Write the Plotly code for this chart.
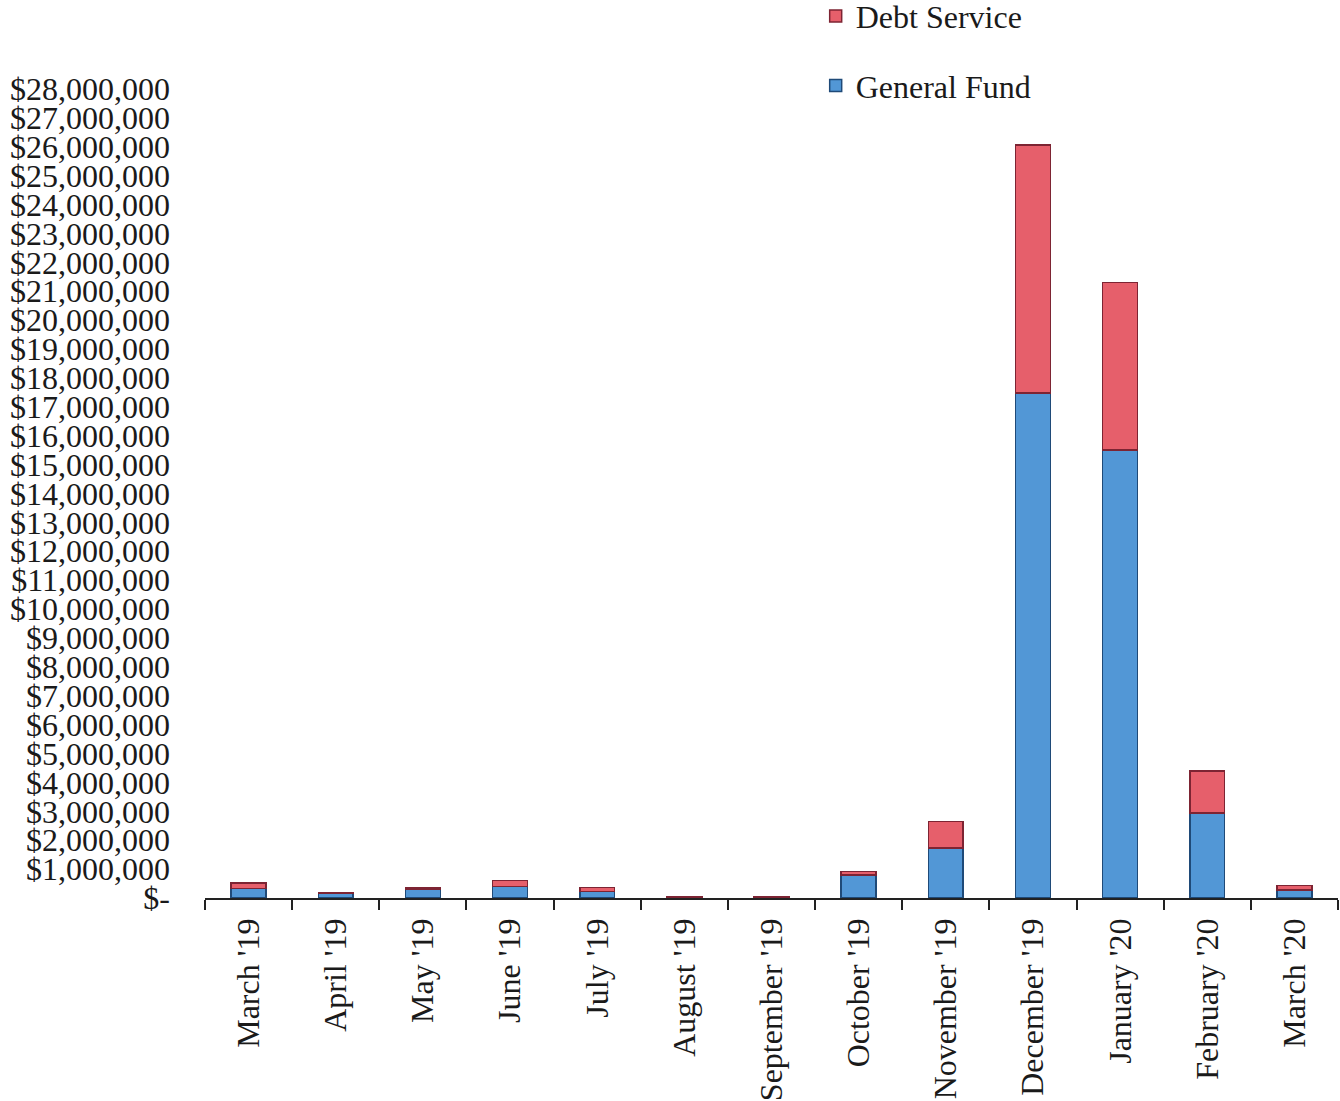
import plotly.graph_objects as go

months = ["March '19", "April '19", "May '19", "June '19", "July '19", "August '19",
          "September '19", "October '19", "November '19", "December '19",
          "January '20", "February '20", "March '20"]
general_fund = [330000, 150000, 290000, 400000, 230000, 20000, 20000,
                790000, 1730000, 17470000, 15500000, 2940000, 270000]
debt_service = [190000, 30000, 50000, 200000, 130000, 10000, 10000,
                130000, 910000, 8590000, 5800000, 1450000, 160000]
tick_values = list(range(0, 28000001, 1000000))


def fmt(v):
    return "$-" if v == 0 else "${:,}".format(v)


tick_text = [fmt(v) for v in tick_values]

font_family = "Liberation Serif, Times New Roman, serif"

fig = go.Figure()
fig.add_trace(go.Bar(
    x=months, y=general_fund, name="General Fund", legendgroup="gf", legendrank=2,
    marker=dict(color="#5297d6", line=dict(color="#1f4a78", width=1.5)),
))
fig.add_trace(go.Bar(
    x=months, y=debt_service, name="Debt Service", legendgroup="ds", legendrank=1,
    marker=dict(color="#e65f6b", line=dict(color="#7d2433", width=1.5)),
))

fig.update_layout(
    barmode="stack",
    bargap=0.6,
    width=1340, height=1101,
    margin=dict(l=205, r=2, t=89, b=203, autoexpand=False),
    paper_bgcolor="white",
    plot_bgcolor="white",
    font=dict(family=font_family, size=32, color="#1a1a1a"),
    showlegend=True,
    legend=dict(
        x=0.539, y=1.124, xanchor="left", yanchor="top",
        traceorder="grouped", tracegroupgap=25,
        font=dict(family=font_family, size=32, color="#1a1a1a"),
        bgcolor="rgba(0,0,0,0)",
        itemwidth=30,
    ),
    xaxis=dict(
        type="category",
        tickangle=-90,
        ticks="outside", ticklen=10, tickwidth=1.5, tickcolor="#222",
        tickson="boundaries",
        ticklabelstandoff=6,
        automargin=False,
        showline=True, linecolor="#222", linewidth=1.5,
        showgrid=False,
        tickfont=dict(family=font_family, size=32, color="#1a1a1a"),
    ),
    yaxis=dict(
        range=[0, 28000000],
        tickvals=tick_values, ticktext=tick_text,
        showgrid=False, zeroline=False, showline=False,
        ticks="",
        ticklabelstandoff=34,
        automargin=False,
        tickfont=dict(family=font_family, size=32, color="#1a1a1a"),
    ),
)

fig.write_html("out.html")
